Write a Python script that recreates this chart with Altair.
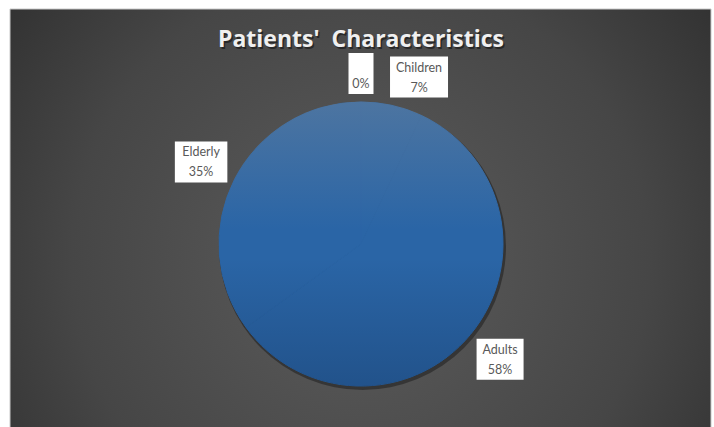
import altair as alt
import pandas as pd

# Patient groups and their counts (share of the whole, in percent)
categories = ["", "Children", "Adults", "Elderly"]
values = [0, 7, 58, 35]
TITLE = "Patients'\u00a0 Characteristics"

df = pd.DataFrame({
    "category": categories,
    "value": values,
    "idx": list(range(len(categories))),
})

W, H = 714, 427
CX, CY = 361, 244          # pie centre in pixels
R = 142                    # pie radius
RL = 150                   # radius where the data labels are anchored
BH = 41                    # data label box height
PIE_BLUE = "#2a65a6"

base = alt.Chart(df)

# Dark panel with a soft radial glow
panel_fill = alt.RadialGradient(
    gradient="radial",
    x1=0.5, y1=0.56, r1=0,
    x2=0.5, y2=0.56, r2=0.75,
    stops=[
        alt.GradientStop(color="#5c5c5c", offset=0),
        alt.GradientStop(color="#464646", offset=0.55),
        alt.GradientStop(color="#262626", offset=1),
    ],
)
panel = alt.Chart(pd.DataFrame({"k": [0]})).mark_rect(
    color=panel_fill, stroke="#c8c8c8", strokeWidth=1
).encode(x=alt.value(10), x2=alt.value(711), y=alt.value(9), y2=alt.value(428))

# Soft drop shadow under the pie
shadow = base.mark_arc(radius=R + 1.5, color="#000000", opacity=0.35).encode(
    theta=alt.Theta("sum(value):Q"),
    x=alt.value(CX + 1.5),
    y=alt.value(CY + 2.5),
)

# The slices themselves, all in the same blue
slices = base.mark_arc(radius=R, stroke=PIE_BLUE, strokeWidth=1).encode(
    theta=alt.Theta("value:Q", stack=True),
    order=alt.Order("idx:Q"),
    detail="category:N",
    color=alt.value(PIE_BLUE),
    x=alt.value(CX),
    y=alt.value(CY),
)

# Vertical sheen across the whole pie
sheen_fill = alt.LinearGradient(
    gradient="linear", x1=0, y1=0, x2=0, y2=1,
    stops=[
        alt.GradientStop(color="rgba(150,150,150,0.32)", offset=0),
        alt.GradientStop(color="rgba(150,150,150,0.0)", offset=0.45),
        alt.GradientStop(color="rgba(0,8,30,0.0)", offset=0.55),
        alt.GradientStop(color="rgba(0,8,30,0.2)", offset=1),
    ],
)
sheen = base.mark_arc(radius=R + 0.5, color=sheen_fill).encode(
    theta=alt.Theta("sum(value):Q"),
    x=alt.value(CX),
    y=alt.value(CY),
)

# Label geometry: mid-angle of each slice, anchor just outside the rim,
# box pushed away from the pie on the side the slice points to
labels = (
    base.transform_joinaggregate(total="sum(value)")
    .transform_window(cum="sum(value)", sort=[alt.SortField("idx")], frame=[None, 0])
    .transform_calculate(
        mid="2*PI*(datum.cum - datum.value/2)/datum.total",
        pct="format(datum.value/datum.total, '.0%')",
        w="max(length(datum.category), length(datum.pct))*5.5 + 14",
        ax=f"{CX} + {RL}*sin(datum.mid)",
        ay=f"{CY} - {RL}*cos(datum.mid)",
        bx="datum.ax + clamp(4*sin(datum.mid), -1, 1)*datum.w/2",
        by=f"datum.ay - clamp(1.5*cos(datum.mid), -1, 1)*{BH / 2}",
        bx1="datum.bx - datum.w/2",
        bx2="datum.bx + datum.w/2",
        by1=f"datum.by - {BH / 2}",
        by2=f"datum.by + {BH / 2}",
        ny="datum.by - 9.5",
        py="datum.by + 10.5",
    )
)

boxes = labels.mark_rect(color="#ffffff").encode(
    x=alt.X("bx1:Q", scale=None, axis=None),
    x2="bx2:Q",
    y=alt.Y("by1:Q", scale=None, axis=None),
    y2="by2:Q",
)

label_style = dict(font="Lato", fontSize=12.5, color="#595959", baseline="middle", align="center")
names = labels.mark_text(**label_style).encode(
    x=alt.X("bx:Q", scale=None, axis=None),
    y=alt.Y("ny:Q", scale=None, axis=None),
    text="category:N",
)
pcts = labels.mark_text(**label_style).encode(
    x=alt.X("bx:Q", scale=None, axis=None),
    y=alt.Y("py:Q", scale=None, axis=None),
    text="pct:N",
)

# Chart title with a soft shadow
title_df = pd.DataFrame({"t": [TITLE]})
title_style = dict(font="Open Sans", fontSize=23, fontWeight="bold", align="center", baseline="alphabetic")
title_shadow = alt.Chart(title_df).mark_text(color="#000000", opacity=0.45, **title_style).encode(
    x=alt.value(CX + 1.5), y=alt.value(48.5), text="t:N"
)
title = alt.Chart(title_df).mark_text(color="#f0f0f0", **title_style).encode(
    x=alt.value(CX), y=alt.value(47), text="t:N"
)

chart = (
    alt.layer(panel, shadow, slices, sheen, boxes, names, pcts, title_shadow, title)
    .properties(width=W, height=H, autosize="none", padding=0, background="#ffffff")
    .configure_view(stroke=None)
)

chart.save("out.html", embed_options={"renderer": "svg", "actions": False})
